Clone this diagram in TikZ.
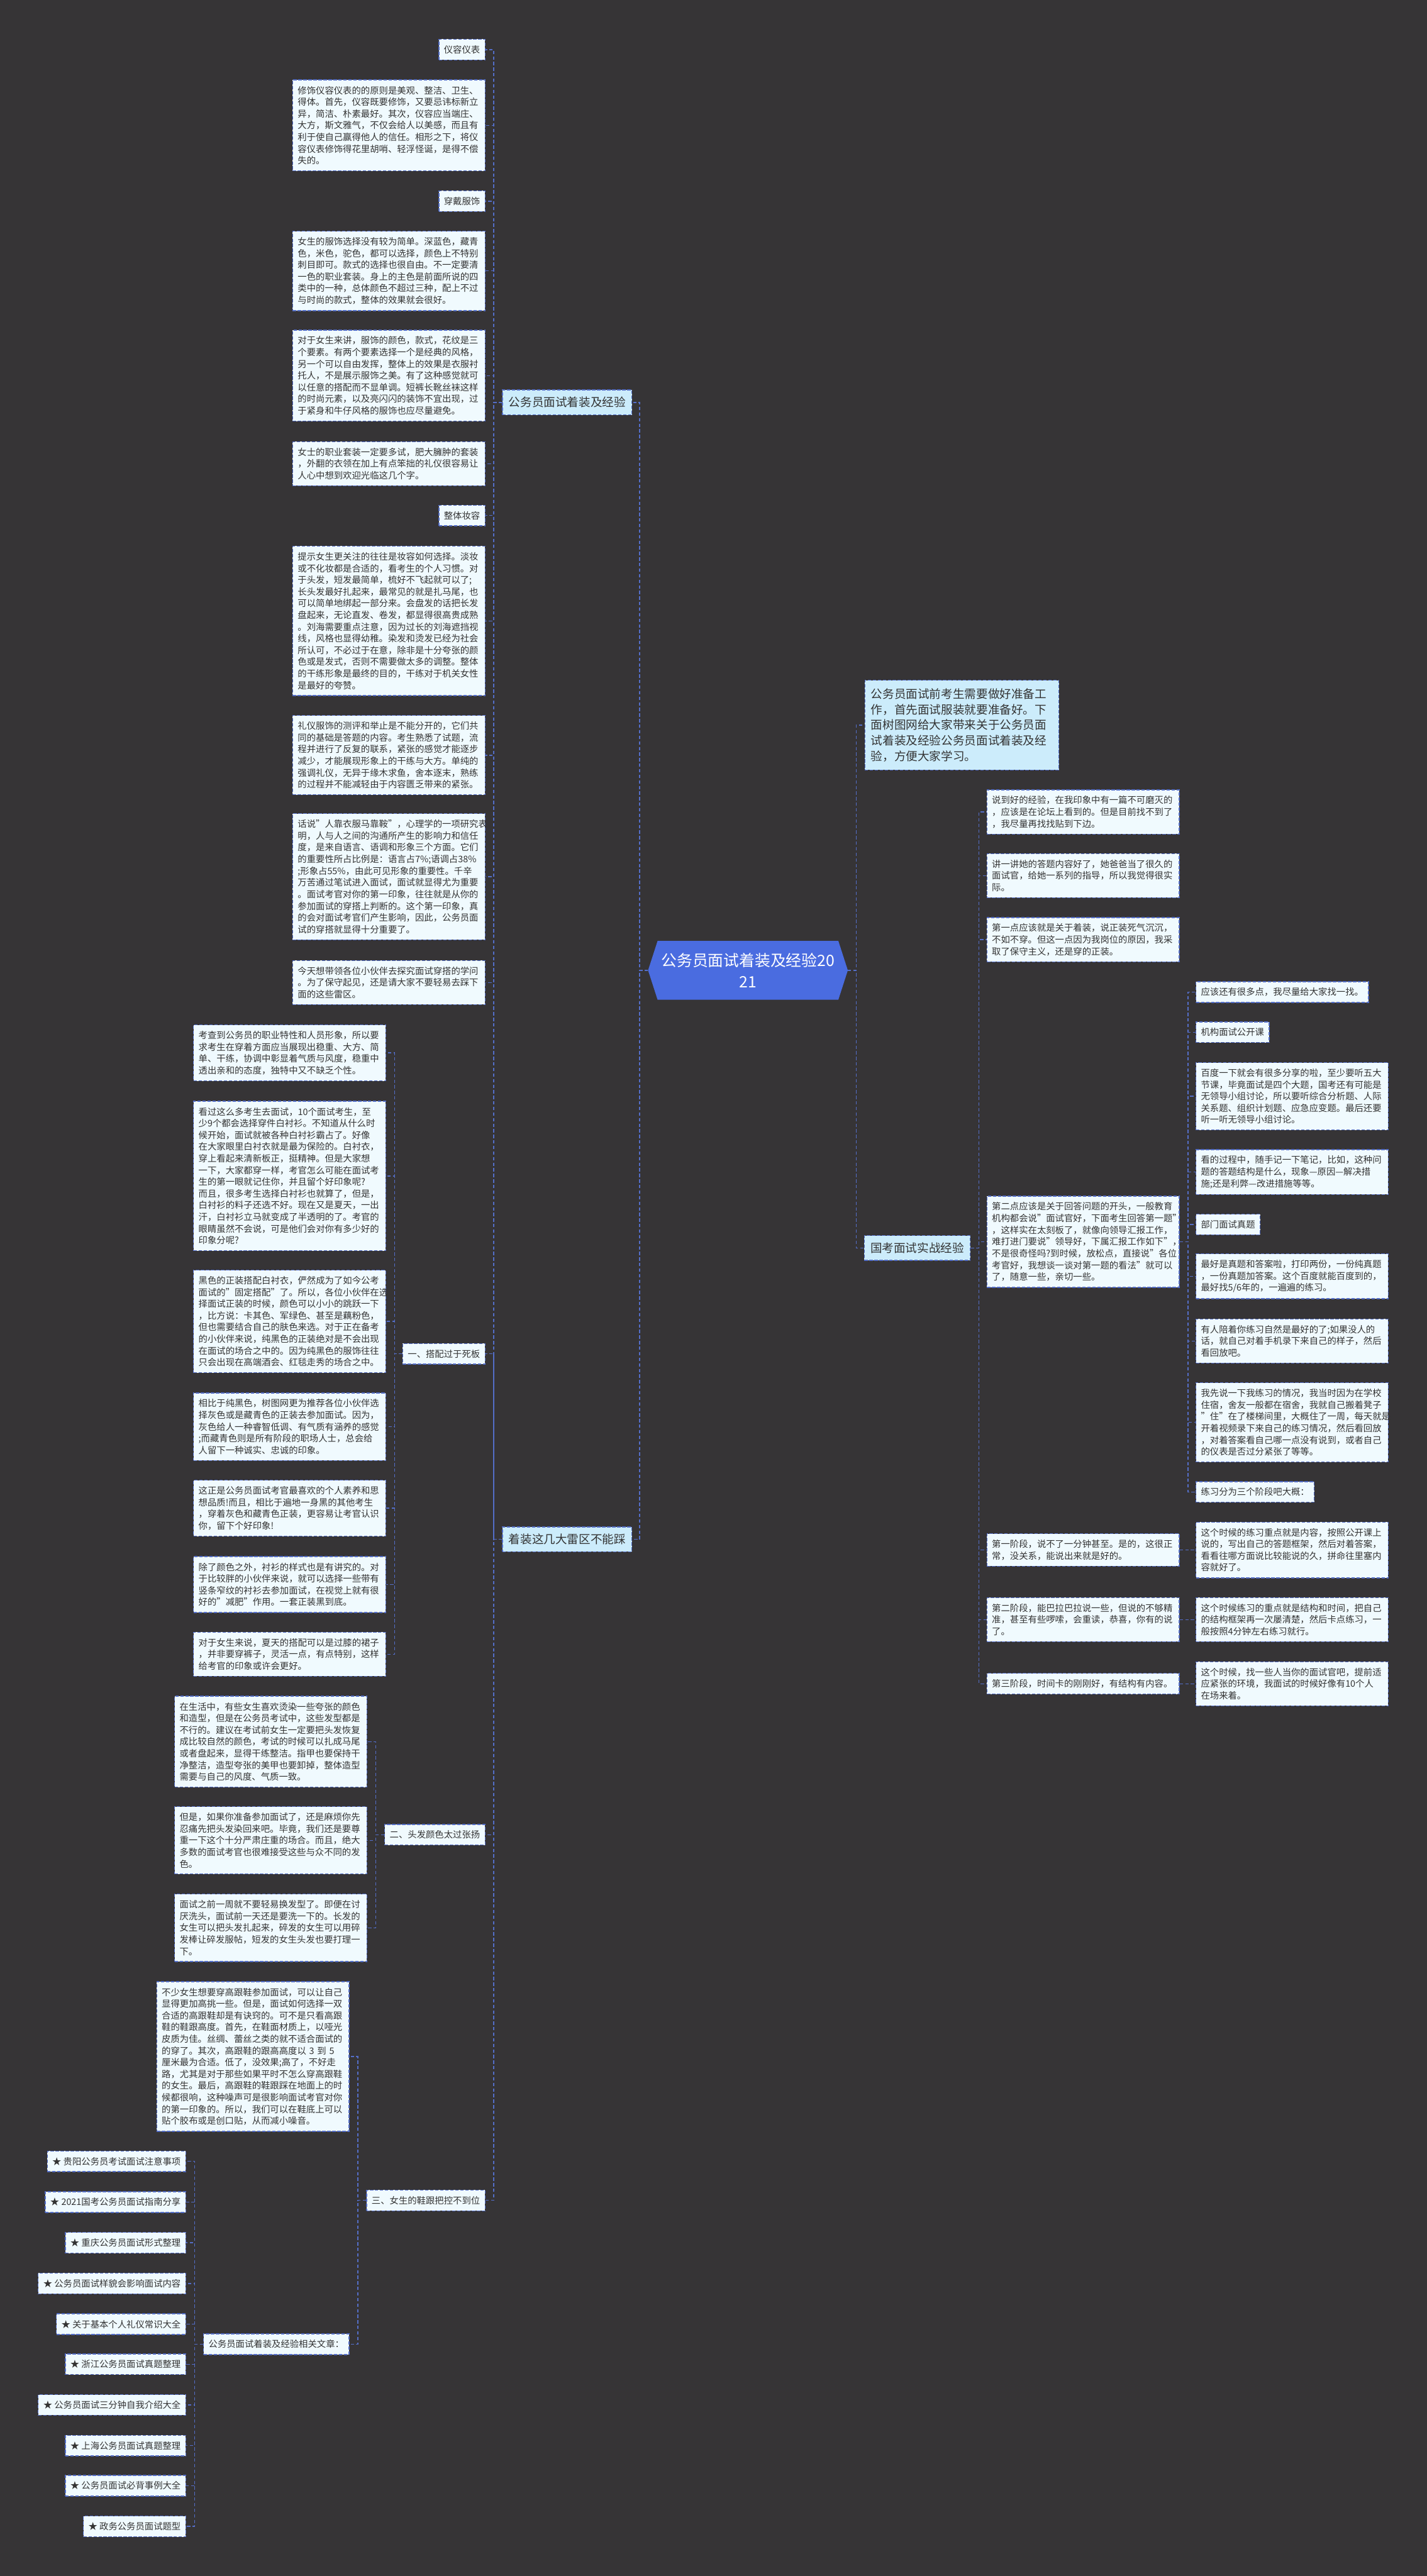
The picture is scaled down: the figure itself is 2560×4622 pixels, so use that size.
\documentclass[tikz,border=0pt]{standalone}
\usepackage{fontspec}
\setmainfont{Noto Sans CJK SC}
\definecolor{bgc}{RGB}{54,52,54}
\definecolor{lfc}{RGB}{240,250,254}
\definecolor{bfc}{RGB}{204,236,251}
\definecolor{rfc}{RGB}{74,108,224}
\definecolor{lnc}{RGB}{84,110,200}
\definecolor{txc}{RGB}{51,51,51}
\newcommand\fsS{\fontsize{16.2pt}{21pt}\selectfont}
\newcommand\fsB{\fontsize{21pt}{28pt}\selectfont}
\newcommand\fsR{\fontsize{28pt}{38pt}\selectfont}
\begin{document}
\begin{tikzpicture}[x=1pt,y=-1pt,
 conn/.style={draw=lnc, line width=1.6pt, dash pattern=on 6pt off 4pt},
 box/.style={draw=lnc, line width=1.5pt, dash pattern=on 6pt off 3pt, fill=lfc, text=txc, font=\fsS, inner xsep=9pt, inner ysep=11pt, align=left},
 txt/.style={box, text width=327pt},
 lbl/.style={box},
 brn/.style={draw=lnc, line width=1.5pt, dash pattern=on 6pt off 3pt, fill=bfc, text=txc, font=\fsB, inner xsep=11pt, inner ysep=12.5pt, align=left},
]
\fill[bgc] (0,0) rectangle (2560,4622);
\useasboundingbox (0,0) rectangle (2560,4622);

% root
\node[font=\fsR, text=white, align=center, minimum width=358pt, minimum height=105pt, inner sep=0pt] (root) at (1342,1741) {};
\fill[rfc] (root.west) -- ([xshift=17pt]root.north west) -- ([xshift=-17pt]root.north east) -- (root.east) -- ([xshift=-17pt]root.south east) -- ([xshift=17pt]root.south west) -- cycle;
\node[font=\fsR, text=white, align=center] at (root.center) {公务员面试着装及经验20\\21};

% branches
\node[brn, anchor=west] (br1) at (901,722) {公务员面试着装及经验};
\node[brn, anchor=west] (br2) at (901,2762) {着装这几大雷区不能踩};
\node[brn, anchor=west] (br3) at (1550,2239) {国考面试实战经验};
\node[brn, anchor=west, text width=326pt, inner ysep=14.5pt] (intro) at (1551,1301) {公务员面试前考生需要做好准备工\\作，首先面试服装就要准备好。下\\面树图网给大家带来关于公务员面\\试着装及经验公务员面试着装及经\\验，方便大家学习。};

% branch 1 children
\node[lbl, anchor=east] (n11) at (871,89) {仪容仪表};
\node[txt, anchor=east] (n12) at (871,225) {修饰仪容仪表的的原则是美观、整洁、卫生、\\得体。首先，仪容既要修饰，又要忌讳标新立\\异，简洁、朴素最好。其次，仪容应当端庄、\\大方，斯文雅气，不仅会给人以美感，而且有\\利于使自己赢得他人的信任。相形之下，将仪\\容仪表修饰得花里胡哨、轻浮怪诞，是得不偿\\失的。};
\node[lbl, anchor=east] (n13) at (871,361) {穿戴服饰};
\node[txt, anchor=east] (n14) at (871,486) {女生的服饰选择没有较为简单。深蓝色，藏青\\色，米色，驼色，都可以选择，颜色上不特别\\刺目即可。款式的选择也很自由。不一定要清\\一色的职业套装。身上的主色是前面所说的四\\类中的一种，总体颜色不超过三种，配上不过\\与时尚的款式，整体的效果就会很好。};
\node[txt, anchor=east] (n15) at (871,674) {对于女生来讲，服饰的颜色，款式，花纹是三\\个要素。有两个要素选择一个是经典的风格，\\另一个可以自由发挥，整体上的效果是衣服衬\\托人，不是展示服饰之美。有了这种感觉就可\\以任意的搭配而不显单调。短裤长靴丝袜这样\\的时尚元素，以及亮闪闪的装饰不宜出现，过\\于紧身和牛仔风格的服饰也应尽量避免。};
\node[txt, anchor=east] (n16) at (871,832) {女士的职业套装一定要多试，肥大臃肿的套装\\，外翻的衣领在加上有点笨拙的礼仪很容易让\\人心中想到欢迎光临这几个字。};
\node[lbl, anchor=east] (n17) at (871,925) {整体妆容};
\node[txt, anchor=east] (n18) at (871,1114) {提示女生更关注的往往是妆容如何选择。淡妆\\或不化妆都是合适的，看考生的个人习惯。对\\于头发，短发最简单，梳好不飞起就可以了;\\长头发最好扎起来，最常见的就是扎马尾，也\\可以简单地绑起一部分来。会盘发的话把长发\\盘起来，无论直发、卷发，都显得很高贵成熟\\。刘海需要重点注意，因为过长的刘海遮挡视\\线，风格也显得幼稚。染发和烫发已经为社会\\所认可，不必过于在意，除非是十分夸张的颜\\色或是发式，否则不需要做太多的调整。整体\\的干练形象是最终的目的，干练对于机关女性\\是最好的夸赞。};
\node[txt, anchor=east] (n19) at (871,1355) {礼仪服饰的测评和举止是不能分开的，它们共\\同的基础是答题的内容。考生熟悉了试题，流\\程并进行了反复的联系，紧张的感觉才能逐步\\减少，才能展现形象上的干练与大方。单纯的\\强调礼仪，无异于缘木求鱼，舍本逐末，熟练\\的过程并不能减轻由于内容匮乏带来的紧张。};
\node[txt, anchor=east] (n1a) at (871,1573) {话说"人靠衣服马靠鞍"，心理学的一项研究表\\明，人与人之间的沟通所产生的影响力和信任\\度，是来自语言、语调和形象三个方面。它们\\的重要性所占比例是：语言占7\%;语调占38\%\\;形象占55\%，由此可见形象的重要性。千辛\\万苦通过笔试进入面试，面试就显得尤为重要\\。面试考官对你的第一印象，往往就是从你的\\参加面试的穿搭上判断的。这个第一印象，真\\的会对面试考官们产生影响，因此，公务员面\\试的穿搭就显得十分重要了。};
\node[txt, anchor=east] (n1b) at (871,1763) {今天想带领各位小伙伴去探究面试穿搭的学问\\。为了保守起见，还是请大家不要轻易去踩下\\面的这些雷区。};

% branch 2 children
\node[lbl, anchor=east] (g1) at (871,2429) {一、搭配过于死板};
\node[txt, anchor=east] (g1a) at (693,1889) {考查到公务员的职业特性和人员形象，所以要\\求考生在穿着方面应当展现出稳重、大方、简\\单、干练，协调中彰显着气质与风度，稳重中\\透出亲和的态度，独特中又不缺乏个性。};
\node[txt, anchor=east] (g1b) at (693,2110) {看过这么多考生去面试，10个面试考生，至\\少9个都会选择穿件白衬衫。不知道从什么时\\候开始，面试就被各种白衬衫霸占了。好像\\在大家眼里白衬衣就是最为保险的。白衬衣，\\穿上看起来清新板正，挺精神。但是大家想\\一下，大家都穿一样，考官怎么可能在面试考\\生的第一眼就记住你，并且留个好印象呢?\\而且，很多考生选择白衬衫也就算了，但是，\\白衬衫的料子还选不好。现在又是夏天，一出\\汗，白衬衫立马就变成了半透明的了。考官的\\眼睛虽然不会说，可是他们会对你有多少好的\\印象分呢?};
\node[txt, anchor=east] (g1c) at (693,2371) {黑色的正装搭配白衬衣，俨然成为了如今公考\\面试的"固定搭配"了。所以，各位小伙伴在选\\择面试正装的时候，颜色可以小小的跳跃一下\\，比方说：卡其色、军绿色、甚至是藕粉色，\\但也需要结合自己的肤色来选。对于正在备考\\的小伙伴来说，纯黑色的正装绝对是不会出现\\在面试的场合之中的。因为纯黑色的服饰往往\\只会出现在高端酒会、红毯走秀的场合之中。};
\node[txt, anchor=east] (g1d) at (693,2560) {相比于纯黑色，树图网更为推荐各位小伙伴选\\择灰色或是藏青色的正装去参加面试。因为，\\灰色给人一种睿智低调、有气质有涵养的感觉\\;而藏青色则是所有阶段的职场人士，总会给\\人留下一种诚实、忠诚的印象。};
\node[txt, anchor=east] (g1e) at (693,2706) {这正是公务员面试考官最喜欢的个人素养和思\\想品质!而且，相比于遍地一身黑的其他考生\\，穿着灰色和藏青色正装，更容易让考官认识\\你，留下个好印象!};
\node[txt, anchor=east] (g1f) at (693,2843) {除了颜色之外，衬衫的样式也是有讲究的。对\\于比较胖的小伙伴来说，就可以选择一些带有\\竖条窄纹的衬衫去参加面试，在视觉上就有很\\好的"减肥"作用。一套正装黑到底。};
\node[txt, anchor=east] (g1g) at (693,2968) {对于女生来说，夏天的搭配可以是过膝的裙子\\，并非要穿裤子，灵活一点，有点特别，这样\\给考官的印象或许会更好。};

\node[lbl, anchor=east] (g2) at (871,3292) {二、头发颜色太过张扬};
\node[txt, anchor=east] (g2a) at (659,3125) {在生活中，有些女生喜欢烫染一些夸张的颜色\\和造型，但是在公务员考试中，这些发型都是\\不行的。建议在考试前女生一定要把头发恢复\\成比较自然的颜色，考试的时候可以扎成马尾\\或者盘起来，显得干练整洁。指甲也要保持干\\净整洁，造型夸张的美甲也要卸掉，整体造型\\需要与自己的风度、气质一致。};
\node[txt, anchor=east] (g2b) at (659,3302) {但是，如果你准备参加面试了，还是麻烦你先\\忍痛先把头发染回来吧。毕竟，我们还是要尊\\重一下这个十分严肃庄重的场合。而且，绝大\\多数的面试考官也很难接受这些与众不同的发\\色。};
\node[txt, anchor=east] (g2c) at (659,3459) {面试之前一周就不要轻易换发型了。即便在讨\\厌洗头，面试前一天还是要洗一下的。长发的\\女生可以把头发扎起来，碎发的女生可以用碎\\发棒让碎发服帖，短发的女生头发也要打理一\\下。};

\node[lbl, anchor=east] (g3) at (871,3948) {三、女生的鞋跟把控不到位};
\node[txt, anchor=east] (g3a) at (627,3690) {不少女生想要穿高跟鞋参加面试，可以让自己\\显得更加高挑一些。但是，面试如何选择一双\\合适的高跟鞋却是有诀窍的。可不是只看高跟\\鞋的鞋跟高度。首先，在鞋面材质上，以哑光\\皮质为佳。丝绸、蕾丝之类的就不适合面试的\\的穿了。其次，高跟鞋的跟高高度以 3 到 5\\厘米最为合适。低了，没效果;高了，不好走\\路，尤其是对于那些如果平时不怎么穿高跟鞋\\的女生。最后，高跟鞋的鞋跟踩在地面上的时\\候都很响，这种噪声可是很影响面试考官对你\\的第一印象的。所以，我们可以在鞋底上可以\\贴个胶布或是创口贴，从而减小噪音。};
\node[lbl, anchor=east] (g3b) at (627,4206) {公务员面试着装及经验相关文章：};

\node[lbl, anchor=east] (s1) at (334,3878) {★ 贵阳公务员考试面试注意事项};
\node[lbl, anchor=east] (s2) at (334,3951) {★ 2021国考公务员面试指南分享};
\node[lbl, anchor=east] (s3) at (334,4024) {★ 重庆公务员面试形式整理};
\node[lbl, anchor=east] (s4) at (334,4097) {★ 公务员面试样貌会影响面试内容};
\node[lbl, anchor=east] (s5) at (334,4170) {★ 关于基本个人礼仪常识大全};
\node[lbl, anchor=east] (s6) at (334,4242) {★ 浙江公务员面试真题整理};
\node[lbl, anchor=east] (s7) at (334,4315) {★ 公务员面试三分钟自我介绍大全};
\node[lbl, anchor=east] (s8) at (334,4388) {★ 上海公务员面试真题整理};
\node[lbl, anchor=east] (s9) at (334,4460) {★ 公务员面试必背事例大全};
\node[lbl, anchor=east] (s10) at (334,4533) {★ 政务公务员面试题型};

% branch 3 children
\node[txt, anchor=west] (r1) at (1770,1457) {说到好的经验，在我印象中有一篇不可磨灭的\\，应该是在论坛上看到的。但是目前找不到了\\，我尽量再找找贴到下边。};
\node[txt, anchor=west] (r2) at (1770,1571) {讲一讲她的答题内容好了，她爸爸当了很久的\\面试官，给她一系列的指导，所以我觉得很实\\际。};
\node[txt, anchor=west] (r3) at (1770,1686) {第一点应该就是关于着装，说正装死气沉沉，\\不如不穿。但这一点因为我岗位的原因，我采\\取了保守主义，还是穿的正装。};
\node[txt, anchor=west] (r4) at (1770,2228) {第二点应该是关于回答问题的开头，一般教育\\机构都会说"面试官好，下面考生回答第一题"\\，这样实在太刻板了，就像向领导汇报工作，\\难打进门要说"领导好，下属汇报工作如下"，\\不是很奇怪吗?到时候，放松点，直接说"各位\\考官好，我想谈一谈对第一题的看法"就可以\\了，随意一些，亲切一些。};
\node[txt, anchor=west] (r5) at (1770,2781) {第一阶段，说不了一分钟甚至。是的，这很正\\常，没关系，能说出来就是好的。};
\node[txt, anchor=west] (r6) at (1770,2906) {第二阶段，能巴拉巴拉说一些，但说的不够精\\准，甚至有些啰嗦，会重读，恭喜，你有的说\\了。};
\node[txt, anchor=west] (r7) at (1770,3021) {第三阶段，时间卡的刚刚好，有结构有内容。};

\node[lbl, anchor=west] (q1) at (2145,1780) {应该还有很多点，我尽量给大家找一找。};
\node[lbl, anchor=west] (q2) at (2145,1852) {机构面试公开课};
\node[txt, anchor=west] (q3) at (2145,1967) {百度一下就会有很多分享的啦，至少要听五大\\节课，毕竟面试是四个大题，国考还有可能是\\无领导小组讨论，所以要听综合分析题、人际\\关系题、组织计划题、应急应变题。最后还要\\听一听无领导小组讨论。};
\node[txt, anchor=west] (q4) at (2145,2103) {看的过程中，随手记一下笔记，比如，这种问\\题的答题结构是什么，现象—原因—解决措\\施;还是利弊—改进措施等等。};
\node[lbl, anchor=west] (q5) at (2145,2197) {部门面试真题};
\node[txt, anchor=west] (q6) at (2145,2290) {最好是真题和答案啦，打印两份，一份纯真题\\，一份真题加答案。这个百度就能百度到的，\\最好找5/6年的，一遍遍的练习。};
\node[txt, anchor=west] (q7) at (2145,2406) {有人陪着你练习自然是最好的了;如果没人的\\话，就自己对着手机录下来自己的样子，然后\\看回放吧。};
\node[txt, anchor=west] (q8) at (2145,2552) {我先说一下我练习的情况，我当时因为在学校\\住宿，舍友一般都在宿舍，我就自己搬着凳子\\"住"在了楼梯间里，大概住了一周，每天就是\\开着视频录下来自己的练习情况，然后看回放\\，对着答案看自己哪一点没有说到，或者自己\\的仪表是否过分紧张了等等。};
\node[lbl, anchor=west] (q9) at (2145,2677) {练习分为三个阶段吧大概：};

\node[txt, anchor=west] (p5) at (2145,2781) {这个时候的练习重点就是内容，按照公开课上\\说的，写出自己的答题框架，然后对着答案，\\看看往哪方面说比较能说的久，拼命往里塞内\\容就好了。};
\node[txt, anchor=west] (p6) at (2145,2906) {这个时候练习的重点就是结构和时间，把自己\\的结构框架再一次屡清楚，然后卡点练习，一\\般按照4分钟左右练习就行。};
\node[txt, anchor=west] (p7) at (2145,3021) {这个时候，找一些人当你的面试官吧，提前适\\应紧张的环境，我面试的时候好像有10个人\\在场来着。};

% connectors
\foreach \c in {br1,br2} \draw[conn] (root.west) -- ++(-15,0) |- (\c.east);
\foreach \c in {intro,br3} \draw[conn] (root.east) -- ++(15,0) |- (\c.west);
\foreach \c in {n11,n12,n13,n14,n15,n16,n17,n18,n19,n1a,n1b} \draw[conn] (br1.west) -- ++(-15,0) |- (\c.east);
\foreach \c in {g1,g2,g3} \draw[conn] (br2.west) -- ++(-15,0) |- (\c.east);
\draw[conn] ([xshift=-15pt]br2.west) -- ([xshift=-15pt]br2.west |- n1b.east);
\foreach \c in {g1a,g1b,g1c,g1d,g1e,g1f,g1g} \draw[conn] (g1.west) -- ++(-14,0) |- (\c.east);
\foreach \c in {g2a,g2b,g2c} \draw[conn] (g2.west) -- ++(-15,0) |- (\c.east);
\foreach \c in {g3a,g3b} \draw[conn] (g3.west) -- ++(-15,0) |- (\c.east);
\foreach \c in {s1,s2,s3,s4,s5,s6,s7,s8,s9,s10} \draw[conn] (g3b.west) -- ++(-15,0) |- (\c.east);
\foreach \c in {r1,r2,r3,r4,r5,r6,r7} \draw[conn] (br3.east) -- ++(15,0) |- (\c.west);
\foreach \c in {q1,q2,q3,q4,q5,q6,q7,q8,q9} \draw[conn] (r4.east) -- ++(15,0) |- (\c.west);
\draw[conn] (r5.east) -- (p5.west);
\draw[conn] (r6.east) -- (p6.west);
\draw[conn] (r7.east) -- (p7.west);
\end{tikzpicture}
\end{document}
